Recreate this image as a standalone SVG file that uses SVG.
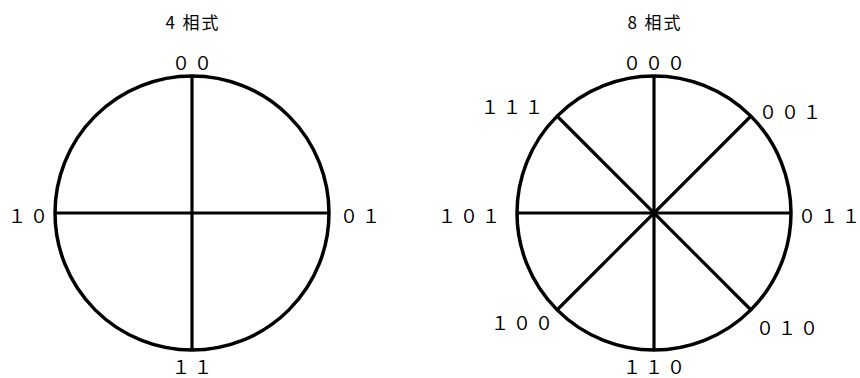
<svg xmlns="http://www.w3.org/2000/svg" width="860" height="378" viewBox="0 0 860 378">
<style>
.c{fill:none;stroke:#000;stroke-width:3.5}
.l{stroke:#000;stroke-width:3.2;fill:none}
text{font-family:"Noto Sans CJK JP","Noto Sans",sans-serif;fill:#000}
.t{font-size:17px;text-anchor:middle;letter-spacing:2px}
.d{font-size:18px;dominant-baseline:central}
.m{text-anchor:middle}
.s{text-anchor:start}
</style>
<rect width="860" height="378" fill="#fff"/>
<g id="phase4">
<text class="t" x="193" y="29">4 相式</text>
<circle class="c" cx="192" cy="213" r="137"/>
</g>
<g id="phase8">
<text class="t" x="655" y="29">8 相式</text>
<circle class="c" cx="654" cy="213" r="137"/>
</g>
<g id="connectors">
<line class="l" x1="192" y1="76" x2="192" y2="350"/>
<line class="l" x1="55" y1="213" x2="329" y2="213"/>
<line class="l" x1="654" y1="76" x2="654" y2="350"/>
<line class="l" x1="517" y1="213" x2="791" y2="213"/>
<line class="l" x1="557" y1="116" x2="751" y2="310"/>
<line class="l" x1="751" y1="116" x2="557" y2="310"/>
</g>
<g id="labels4">
<text class="d m" x="192" y="62">０ ０</text>
<text class="d s" x="8" y="215">１ ０</text>
<text class="d s" x="340" y="215">０ １</text>
<text class="d m" x="192" y="366">１ １</text>
</g>
<g id="labels8">
<text class="d m" x="654" y="62">０ ０ ０</text>
<text class="d s" x="481" y="106">１ １ １</text>
<text class="d s" x="759" y="111">０ ０ １</text>
<text class="d s" x="438" y="215">１ ０ １</text>
<text class="d s" x="798" y="215">０ １ １</text>
<text class="d s" x="491" y="322">１ ０ ０</text>
<text class="d s" x="756" y="327">０ １ ０</text>
<text class="d m" x="654" y="366">１ １ ０</text>
</g>
</svg>
